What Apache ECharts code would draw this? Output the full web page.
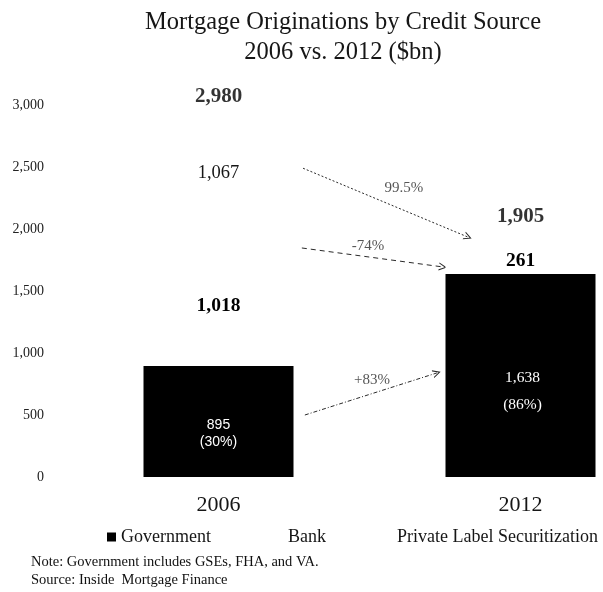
<!DOCTYPE html>
<html>
<head>
<meta charset="utf-8">
<script src="https://cdn.jsdelivr.net/npm/echarts@6/dist/echarts.min.js"></script>
<style>
  html, body { margin: 0; padding: 0; background: #ffffff; }
  #chart { width: 603px; height: 592px; }
</style>
</head>
<body>
<div id="chart"></div>
<script>
// Mortgage originations by credit source, $bn
const categories = ['2006', '2012'];
const government = [895, 1638];
const bank = [1018, 261];
const privateLabel = [1067, 6];
const yTickValues = [0, 500, 1000, 1500, 2000, 2500, 3000];

// Change arrows between the two years (value-axis units: x 0..2, y in $bn)
const arrowText = ['99.5%', '-74%', '+83%'];
const arrowFrom = [[0.78, 2490], [0.776, 1847], [0.786, 500]];
const arrowTo = [[1.326, 1935], [1.243, 1694], [1.223, 839]];
const arrowTextAt = [[1.114, 2331], [0.995, 1863], [1.008, 782]];

const SERIF = '"Liberation Serif", "Times New Roman", serif';
const SANS = '"Liberation Sans", Arial, sans-serif';
const INK = '#161616';

const totals = categories.map((_, i) => government[i] + bank[i] + privateLabel[i]);
const fmt = v => v.toLocaleString('en-US');

// per-bar label styling for the government segment
const govLabelStyle = [
  { fontFamily: SANS, fontSize: 14, lineHeight: 17, offset: [0, 12] },
  { fontFamily: SERIF, fontSize: 15.5, lineHeight: 27, offset: [2, 16] }
];
const totalLabelGap = [0, 13];
const arrowDash = [[2, 2], [5, 4], [4, 2, 1, 2]];

const chart = echarts.init(document.getElementById('chart'), null, { renderer: 'canvas' });

const option = {
  animation: false,
  backgroundColor: '#ffffff',
  title: {
    text: 'Mortgage Originations by Credit Source\n2006 vs. 2012 ($bn)',
    left: 338,
    top: 3,
    textAlign: 'center',
    textStyle: {
      fontFamily: SERIF,
      fontWeight: 'normal',
      fontSize: 24.5,
      lineHeight: 30,
      color: INK
    }
  },
  legend: [
    { name: 'Government', left: 102 },
    { name: 'Bank', left: 269 },
    { name: 'Private Label Securitization', left: 378 }
  ].map(l => ({
    data: [l.name],
    left: l.left,
    top: 523,
    itemWidth: 9,
    itemHeight: 9,
    icon: 'rect',
    selectedMode: false,
    textStyle: { fontFamily: SERIF, fontSize: 18, color: INK }
  })),
  // the two category bands are 302px wide; the plot runs past the right edge
  grid: {
    left: 67.5,
    width: 604,
    top: 105,
    bottom: 115,
    containLabel: false,
    outerBoundsMode: 'none'
  },
  xAxis: [
    {
      type: 'category',
      data: categories,
      axisLine: { show: false },
      axisTick: { show: false },
      axisLabel: { fontFamily: SERIF, fontSize: 22, color: INK, margin: 17 }
    },
    { type: 'value', min: 0, max: 2, show: false }
  ],
  yAxis: {
    type: 'value',
    min: 0,
    max: 3000,
    interval: 500,
    axisLine: { show: false },
    axisTick: { show: false },
    splitLine: { show: false },
    axisLabel: {
      fontFamily: SERIF,
      fontSize: 14,
      color: '#222',
      margin: 23.5,
      padding: [6, 0, 0, 0],
      customValues: yTickValues,
      formatter: v => fmt(v)
    }
  },
  series: [
    {
      name: 'Government',
      type: 'bar',
      stack: 'total',
      barWidth: 150,
      itemStyle: { color: '#000000' },
      data: government.map((v, i) => ({
        value: v,
        label: {
          show: true,
          position: 'inside',
          color: '#ffffff',
          formatter: () => fmt(v) + '\n(' + Math.round(v / totals[i] * 100) + '%)',
          ...govLabelStyle[i]
        }
      }))
    },
    {
      name: 'Bank',
      type: 'bar',
      stack: 'total',
      barWidth: 150,
      itemStyle: { color: '#ffffff' },
      label: {
        show: true,
        position: 'inside',
        offset: [0, 3],
        fontFamily: SERIF,
        fontWeight: 'bold',
        fontSize: 19.5,
        color: '#000',
        formatter: p => fmt(p.value)
      },
      data: bank
    },
    {
      name: 'Private Label Securitization',
      type: 'bar',
      stack: 'total',
      barWidth: 150,
      itemStyle: { color: '#ffffff' },
      label: {
        show: true,
        position: 'inside',
        fontFamily: SERIF,
        fontSize: 18.5,
        color: INK,
        formatter: p => fmt(p.value)
      },
      data: privateLabel.map(v => ({
        value: v,
        label: { show: v >= 100 }
      }))
    },
    {
      name: 'Total',
      type: 'scatter',
      symbolSize: 1,
      itemStyle: { color: 'rgba(0,0,0,0)' },
      silent: true,
      label: {
        show: true,
        position: 'top',
        fontFamily: SERIF,
        fontWeight: 'bold',
        fontSize: 21,
        color: '#000',
        formatter: p => fmt(p.value)
      },
      data: totals.map((v, i) => ({ value: v, label: { distance: totalLabelGap[i] } }))
    },
    // dashed change arrows
    {
      name: 'Change',
      type: 'lines',
      coordinateSystem: 'cartesian2d',
      xAxisIndex: 1,
      yAxisIndex: 0,
      silent: true,
      symbol: ['none', 'path://M0,10 L5,0 L10,10 L8.6,10 L5,2.8 L1.4,10 Z'],
      symbolSize: [9, 8],
      data: arrowFrom.map((from, i) => ({
        coords: [from, arrowTo[i]],
        lineStyle: { type: arrowDash[i] }
      })),
      lineStyle: { color: '#2a2a2a', width: 1, opacity: 1, curveness: 0 }
    },
    {
      name: 'Change label',
      type: 'scatter',
      xAxisIndex: 1,
      yAxisIndex: 0,
      symbolSize: 1,
      silent: true,
      itemStyle: { color: 'rgba(0,0,0,0)' },
      label: {
        show: true,
        position: 'inside',
        fontFamily: SERIF,
        fontSize: 15,
        color: '#2a2a2a',
        formatter: p => arrowText[p.dataIndex]
      },
      data: arrowTextAt
    }
  ],
  graphic: [
    {
      type: 'text',
      left: 31,
      top: 555,
      style: {
        text: 'Note: Government includes GSEs, FHA, and VA.',
        font: '14.5px ' + SERIF,
        fill: '#111'
      }
    },
    {
      type: 'text',
      left: 31,
      top: 573,
      style: {
        text: 'Source: Inside  Mortgage Finance',
        font: '14.5px ' + SERIF,
        fill: '#111'
      }
    }
  ]
};

chart.setOption(option);
</script>
</body>
</html>
